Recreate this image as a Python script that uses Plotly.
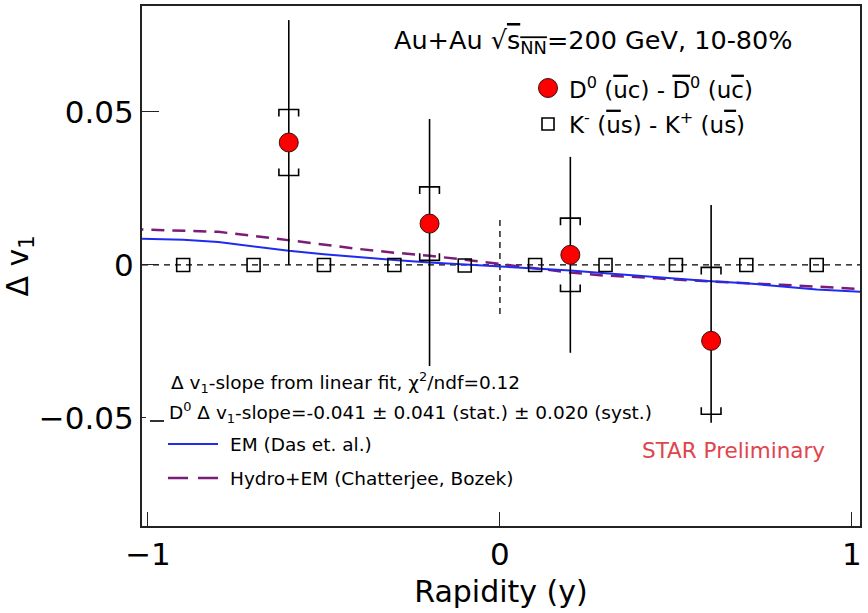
import plotly.graph_objects as go

# ---------------- data ----------------
d0_y_rap = [-0.6, -0.2, 0.2, 0.6]
d0_dv1 = [0.0400, 0.0135, 0.0033, -0.0248]
d0_stat_up = [0.0400, 0.0342, 0.0320, 0.0444]
d0_stat_dn = [0.0400, 0.0620, 0.0320, 0.0268]
d0_syst = [0.0108, 0.0120, 0.0120, 0.0240]

k_y_rap = [-0.9, -0.7, -0.5, -0.3, -0.1, 0.1, 0.3, 0.5, 0.7, 0.9]
k_dv1 = [0.0, 0.0, 0.0, 0.0, -0.0002, 0.0, 0.0, 0.0, 0.0, 0.0]

em_x = [-1.05, -0.9, -0.8, -0.7, -0.6, -0.5, -0.4, -0.3, -0.2, -0.1, 0.0,
        0.1, 0.2, 0.3, 0.4, 0.5, 0.6, 0.7, 0.8, 0.9, 1.05]
em_y = [0.0087, 0.0082, 0.0075, 0.0060, 0.0046, 0.0035, 0.0025, 0.0016, 0.0008, 0.0002, -0.0004,
        -0.0010, -0.0018, -0.0027, -0.0036, -0.0045, -0.0053, -0.0060, -0.0070, -0.0080, -0.0089]
hy_x = [-1.05, -0.9, -0.8, -0.7, -0.6, -0.5, -0.4, -0.3, -0.2, -0.1, 0.0,
        0.1, 0.2, 0.3, 0.4, 0.5, 0.6, 0.7, 0.8, 0.9, 1.05]
hy_y = [0.0117, 0.0113, 0.0108, 0.0095, 0.0080, 0.0067, 0.0052, 0.0040, 0.0030, 0.0017, 0.0003,
        -0.0010, -0.0025, -0.0035, -0.0040, -0.0048, -0.0055, -0.0060, -0.0065, -0.0070, -0.0080]

x_ticks = [-1, 0, 1]
x_tick_text = ["\u22121", "0", "1"]
y_ticks = [-0.05, 0, 0.05]
y_tick_text = ["\u22120.05", "0", "0.05"]

x_range = [-1.017, 1.023]
y_range = [-0.0853, 0.0846]
vline_x, vline_lo, vline_hi = 0.0, -0.016, 0.016

# style constants
BR_HALF = 0.028    # bracket half-width (x units)
BR_TICK = 0.0023   # bracket leg length (y units)
FONT = "DejaVu Sans, Liberation Sans, sans-serif"

# ---------------- build bracket paths from data ----------------
bx, by = [], []
for x, y, s in zip(d0_y_rap, d0_dv1, d0_syst):
    top, bot = y + s, y - s
    bx += [x - BR_HALF, x - BR_HALF, x + BR_HALF, x + BR_HALF, None]
    by += [top - BR_TICK, top, top, top - BR_TICK, None]
    bx += [x - BR_HALF, x - BR_HALF, x + BR_HALF, x + BR_HALF, None]
    by += [bot + BR_TICK, bot, bot, bot + BR_TICK, None]

fig = go.Figure()

fig.add_trace(go.Scatter(x=hy_x, y=hy_y, mode="lines", name="Hydro+EM (Chatterjee, Bozek)",
                         line=dict(color="#7a1c78", width=2.5, dash="13px,8px"), showlegend=False))
fig.add_trace(go.Scatter(x=em_x, y=em_y, mode="lines", name="EM (Das et. al.)",
                         line=dict(color="#1f2cf0", width=2), showlegend=False))
fig.add_trace(go.Scatter(x=k_y_rap, y=k_dv1, mode="markers", name="K- - K+",
                         marker=dict(symbol="square-open", size=13, color="black",
                                     line=dict(width=1.6, color="black")),
                         showlegend=False))
fig.add_trace(go.Scatter(x=bx, y=by, mode="lines", name="syst",
                         line=dict(color="black", width=1.6), showlegend=False))
fig.add_trace(go.Scatter(x=d0_y_rap, y=d0_dv1, mode="markers", name="D0 - D0bar",
                         marker=dict(symbol="circle", size=19, color="#ff0000",
                                     line=dict(width=1, color="#3a1010")),
                         error_y=dict(type="data", symmetric=False, array=d0_stat_up,
                                      arrayminus=d0_stat_dn, color="black", thickness=1.6, width=0),
                         showlegend=False))

# reference lines
fig.add_shape(type="line", xref="paper", yref="y", x0=0, x1=1, y0=0, y1=0,
              line=dict(color="black", width=1.3, dash="6px,5px"), layer="below")
fig.add_shape(type="line", xref="x", yref="y", x0=vline_x, x1=vline_x, y0=vline_lo, y1=vline_hi,
              line=dict(color="black", width=1.3, dash="6px,5px"), layer="below")

# ---------- layout geometry helpers (paper coords from pixels) ----------
L, R, T, B = 142, 860, 6, 526
W, H = 868, 613
def px(xp): return (xp - L) / (R - L)
def py(yp): return (B - yp) / (B - T)

# opaque legend box (white fill, no border) behind the lower-left text block
fig.add_shape(type="rect", xref="paper", yref="paper", x0=px(146), x1=px(665), y0=py(500), y1=py(366),
              fillcolor="white", line=dict(width=0), layer="above")

OL = "<span style='text-decoration:overline'>"
ann = []
ann.append(dict(text="Au+Au \u221a" + OL + "s<sub>NN</sub></span>=200 GeV, 10-80%",
                x=px(392), y=py(42), xanchor="left", yanchor="middle", font=dict(size=25.5)))
ann.append(dict(text="D<sup>0</sup> (" + OL + "u</span>c) - " + OL + "D</span><sup>0</sup> (u" + OL + "c</span>)",
                x=px(567), y=py(88), xanchor="left", yanchor="middle", font=dict(size=23)))
ann.append(dict(text="K<sup>-</sup> (" + OL + "u</span>s) - K<sup>+</sup> (u" + OL + "s</span>)",
                x=px(567), y=py(123), xanchor="left", yanchor="middle", font=dict(size=23)))
ann.append(dict(text="\u0394 v<sub>1</sub>-slope from linear fit, \u03c7<sup>2</sup>/ndf=0.12",
                x=px(169), y=py(382), xanchor="left", yanchor="middle", font=dict(size=18.5)))
ann.append(dict(text="D<sup>0</sup> \u0394 v<sub>1</sub>-slope=-0.041 \u00b1 0.041 (stat.) \u00b1 0.020 (syst.)",
                x=px(167), y=py(412), xanchor="left", yanchor="middle", font=dict(size=18.5)))
ann.append(dict(text="EM (Das et. al.)",
                x=px(228), y=py(444), xanchor="left", yanchor="middle", font=dict(size=18.5)))
ann.append(dict(text="Hydro+EM (Chatterjee, Bozek)",
                x=px(228), y=py(478), xanchor="left", yanchor="middle", font=dict(size=18.5)))
ann.append(dict(text="STAR Preliminary",
                x=px(640), y=py(450), xanchor="left", yanchor="middle",
                font=dict(size=21.5, color="#e0444c")))
for a in ann:
    a.update(xref="paper", yref="paper", showarrow=False)
    a.setdefault("font", {})
    a["font"].setdefault("color", "black")
    a["font"]["family"] = FONT
fig.update_layout(annotations=ann)

# legend symbols (pixel-sized shapes anchored in paper coords)
fig.add_shape(type="circle", xref="paper", yref="paper", xsizemode="pixel", ysizemode="pixel",
              xanchor=px(548), yanchor=py(88), x0=-9.5, x1=9.5, y0=-9.5, y1=9.5,
              fillcolor="#ff0000", line=dict(color="#3a1010", width=1))
fig.add_shape(type="rect", xref="paper", yref="paper", xsizemode="pixel", ysizemode="pixel",
              xanchor=px(548), yanchor=py(124), x0=-6, x1=6, y0=-6, y1=6,
              fillcolor="rgba(0,0,0,0)", line=dict(color="black", width=1.6))
fig.add_shape(type="line", xref="paper", yref="paper", x0=px(150), x1=px(164), y0=py(421), y1=py(421),
              line=dict(color="black", width=1.6))
fig.add_shape(type="line", xref="paper", yref="paper", x0=px(168), x1=px(218), y0=py(444), y1=py(444),
              line=dict(color="#1f2cf0", width=2))
fig.add_shape(type="line", xref="paper", yref="paper", x0=px(168), x1=px(218), y0=py(478), y1=py(478),
              line=dict(color="#7a1c78", width=2.5, dash="20px,10px"))

axis_common = dict(showline=True, linecolor="#222222", linewidth=2, mirror=True,
                   ticks="inside", tickcolor="#222222", tickwidth=1.3,
                   showgrid=False, zeroline=False,
                   tickfont=dict(family=FONT, size=31, color="black"))
fig.update_xaxes(range=x_range, tickvals=x_ticks, ticktext=x_tick_text, ticklen=14,
                 title=dict(text="Rapidity (y)", font=dict(family=FONT, size=30, color="black"), standoff=10),
                 **axis_common)
fig.update_yaxes(range=y_range, tickvals=y_ticks, ticktext=y_tick_text, ticklen=17,
                 title=dict(text="\u0394 v<sub>1</sub>", font=dict(family=FONT, size=30, color="black"), standoff=16),
                 **axis_common)

fig.update_layout(width=W, height=H, margin=dict(l=L, r=W - R, t=T, b=H - B, autoexpand=False),
                  plot_bgcolor="white", paper_bgcolor="white", showlegend=False,
                  font=dict(family=FONT))

fig.write_html("out.html")
